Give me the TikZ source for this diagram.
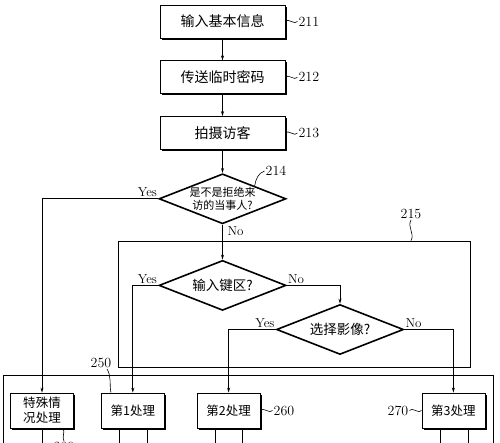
\documentclass[tikz,border=0pt]{standalone}
\usepackage{fontspec}
\newfontfamily\cjk{Noto Sans CJK SC}
\usetikzlibrary{shapes.geometric, arrows.meta, positioning, shadows}
\tikzset{
	block/.style={rectangle, draw, fill=white, line width=0.8pt, minimum width=125pt, minimum height=33pt, align=center, font=\cjk\fontsize{14pt}{16pt}\selectfont, drop shadow={shadow xshift=1.6pt, shadow yshift=-1.6pt, fill=black, opacity=1}},
	decision/.style={diamond, draw, line width=1.6pt, aspect=2.54, minimum width=127pt, minimum height=50pt, inner sep=0pt, align=center, font=\cjk\fontsize{13.5pt}{15pt}\selectfont},
	line/.style={draw, line width=0.7pt, -{Stealth[length=5pt, width=3pt]}}
}

\begin{document}
\begin{tikzpicture}[x=1pt, y=1pt,
	node distance = 22pt and 20pt,
	% Styles
	proc/.style = {block, minimum width=63pt, minimum height=35pt, font=\cjk\fontsize{12.5pt}{15pt}\selectfont},
	num/.style = {font=\fontsize{14pt}{16pt}\selectfont, inner sep=1pt},
	yn/.style = {font=\fontsize{13pt}{15pt}\selectfont, inner sep=1pt},
	lead/.style = {draw, line width=0.6pt},
	frame/.style = {draw, line width=0.7pt, inner sep=0pt}
	]
	\useasboundingbox[fill=white] (0,0) rectangle (500,-443);
	\coordinate (bottom) at (0,-443);
	
	% Group frames
	\node[frame, minimum width=352pt, minimum height=126pt] (grp215) at (294,-304) {};
	\node[frame, minimum width=490pt, minimum height=86pt] (grp250) at (248,-418) {};
	
	% Top column
	\node[block] (in211) at (222.5,-21.5) {输入基本信息};
	\node[block, below=of in211] (send212) {传送临时密码};
	\node[block, below=of send212] (shoot213) {拍摄访客};
	\node[decision, below=23pt of shoot213, inner sep=-2pt, font=\cjk\fontsize{11pt}{12.5pt}\selectfont] (check214) {是不是拒绝来\\访的当事人?};
	
	% Inside 215
	\node[decision, below=35pt of check214] (key) {输入键区?};
	\node[decision] (choose) at (340,-329.5) {选择影像?};
	
	% Bottom row
	\node[proc] (special) at (42,-410.5) {特殊情\\况处理};
	\node[proc, right=27pt of special] (proc1) {第1处理};
	\node[proc, right=32pt of proc1] (proc2) {第2处理};
	\node[proc, right=161pt of proc2] (proc3) {第3处理};
	
	% Reference numbers
	\node[num, right=12pt of in211] (n211) {211};
	\node[num, right=12pt of send212] (n212) {212};
	\node[num, right=12pt of shoot213] (n213) {213};
	\node[num] (n214) at (276,-171) {214};
	\node[num] (n215) at (411,-214) {215};
	\node[num] (n250) at (101,-363) {250};
	\node[num, right=12pt of proc2] (n260) {260};
	\node[num, left=12pt of proc3] (n270) {270};
	\node[num] (n280) at (64,-447) {280};
	
	% Yes / No
	\node[yn, above left=1pt and 0pt of check214.west] (yes214) {Yes};
	\node[yn, below right=1pt and 4pt of check214.south] (no214) {No};
	\node[yn, above left=1pt and 0pt of key.west] (yeskey) {Yes};
	\node[yn, above right=1pt and 0pt of key.east] (nokey) {No};
	\node[yn, above left=1pt and 0pt of choose.west] (yeschoose) {Yes};
	\node[yn, above right=1pt and 0pt of choose.east] (nochoose) {No};
	
	% Paths
	\draw[line] (in211) -- (send212);
	\draw[line] (send212) -- (shoot213);
	\draw[line] (shoot213) -- (check214);
	\draw[line] (check214) -- (key);
	\draw[line] (check214.west) -| (special.north);
	\draw[line] (key.west) -| (proc1.north);
	\draw[line] (key.east) -| (choose.north);
	\draw[line] (choose.west) -| (proc2.north);
	\draw[line] (choose.east) -| (proc3.north);
	
	% Leaders
	\draw[lead] (in211.east) to[out=60, in=240] (n211.west);
	\draw[lead] (send212.east) to[out=60, in=240] (n212.west);
	\draw[lead] (shoot213.east) to[out=60, in=240] (n213.west);
	\draw[lead] (check214.north east) to[out=80, in=200] (n214.west);
	\draw[lead] (grp215.north -| n215) to[out=60, in=240] (n215.south);
	\draw[lead] ([xshift=10pt]proc1.north west) to[out=100, in=-60] ([xshift=6pt]n250.south);
	\draw[lead] (proc2.east) to[out=60, in=240] (n260.west);
	\draw[lead] (n270.east) to[out=60, in=240] (proc3.west);
	\draw[lead] ([xshift=21pt]special.south) to[out=-60, in=120] (n280.north);
	
	% Lines leaving the bottom
	\foreach \n/\dx in {special/0, proc1/-14, proc1/14, proc2/-13.5, proc2/13.5, proc3/-13, proc3/15}
		\draw[lead] ([xshift=\dx pt]\n.south) -- ([xshift=\dx pt]\n.south |- bottom);
	
\end{tikzpicture}
\end{document}
